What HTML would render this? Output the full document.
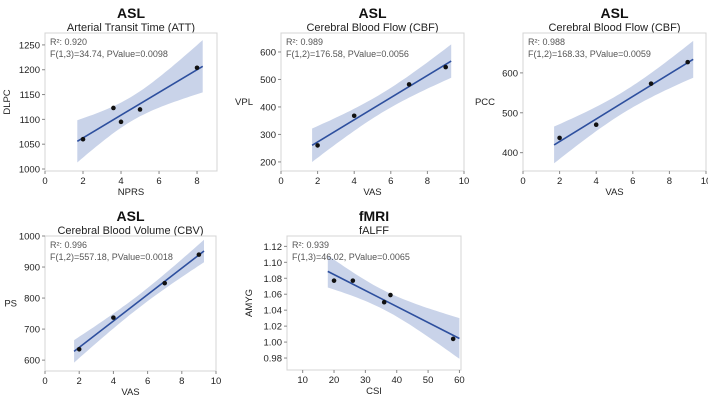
<!DOCTYPE html>
<html><head><meta charset="utf-8"><style>
body{margin:0;background:#fff;width:708px;height:406px;overflow:hidden;font-family:"Liberation Sans",sans-serif}
</style></head><body>
<svg id="fig" width="708" height="406" xmlns="http://www.w3.org/2000/svg" font-family="Liberation Sans, sans-serif"></svg>
<script>
// Panel data
const p1X=[2,3.6,4,5,8];      const p1Y=[1060,1123,1095,1120,1204];
const p2X=[2,4,7,9];          const p2Y=[260,368,482,545];
const p3X=[2,4,7,9];          const p3Y=[437,470,573,627];
const p4X=[2,4,7,9];          const p4Y=[635,737,848,940];
const p5X=[20,26,36,38,58];   const p5Y=[1.077,1.077,1.050,1.059,1.004];
const p1YTicks=[1000,1050,1100,1150,1200,1250]; const p1XTicks=[0,2,4,6,8];
const p2YTicks=[200,300,400,500,600]; const p2XTicks=[0,2,4,6,8,10];
const p3YTicks=[400,500,600]; const p3XTicks=[0,2,4,6,8,10];
const p4YTicks=[600,700,800,900,1000]; const p4XTicks=[0,2,4,6,8,10];
const p5YTicks=[0.98,1.00,1.02,1.04,1.06,1.08,1.10,1.12]; const p5XTicks=[10,20,30,40,50,60];
const titles=["ASL","ASL","ASL","ASL","fMRI"];
const subtitles=["Arterial Transit Time (ATT)","Cerebral Blood Flow (CBF)","Cerebral Blood Flow (CBF)","Cerebral Blood Volume (CBV)","fALFF"];
const statR=["R²: 0.920","R²: 0.989","R²: 0.988","R²: 0.996","R²: 0.939"];
const statF=["F(1,3)=34.74, PValue=0.0098","F(1,2)=176.58, PValue=0.0056","F(1,2)=168.33, PValue=0.0059","F(1,2)=557.18, PValue=0.0018","F(1,3)=46.02, PValue=0.0065"];
const xTitles=["NPRS","VAS","VAS","VAS","CSI"];
const yTitles=["DLPC","VPL","PCC","PS","AMYG"];

const panels=[
 {X:p1X,Y:p1Y,yt:p1YTicks,xt:p1XTicks,L:45,R:217,T:33,B:171,x0:0,x1:9.05,y0:996,y1:1274,fx:1.7,tx:8.3,rot:true,dec:0},
 {X:p2X,Y:p2Y,yt:p2YTicks,xt:p2XTicks,L:281,R:464,T:33,B:171,x0:0,x1:10,y0:167,y1:669,fx:1.7,tx:9.3,rot:false,dec:0},
 {X:p3X,Y:p3Y,yt:p3YTicks,xt:p3XTicks,L:523,R:706,T:33,B:171,x0:0,x1:10,y0:354,y1:700,fx:1.7,tx:9.3,rot:false,dec:0},
 {X:p4X,Y:p4Y,yt:p4YTicks,xt:p4XTicks,L:45,R:216,T:236,B:371,x0:0,x1:10,y0:565,y1:1000,fx:1.7,tx:9.3,rot:false,dec:0},
 {X:p5X,Y:p5Y,yt:p5YTicks,xt:p5XTicks,L:287,R:461,T:236,B:370,x0:5,x1:60.5,y0:0.965,y1:1.133,fx:18,tx:60,rot:true,dec:2}
];
const tcrit={3:3.182,2:4.303};
const svg=document.getElementById('fig');
const NS="http://www.w3.org/2000/svg";
function mk(tag,attrs,txt){const e=document.createElementNS(NS,tag);for(const k in attrs)e.setAttribute(k,attrs[k]);if(txt!==undefined)e.textContent=txt;svg.appendChild(e);return e;}

panels.forEach((p,i)=>{
  const sx=v=>p.L+(v-p.x0)/(p.x1-p.x0)*(p.R-p.L);
  const sy=v=>p.B-(v-p.y0)/(p.y1-p.y0)*(p.B-p.T);
  const cx=(p.L+p.R)/2;
  let e;
  e=mk('text',{x:cx,y:p.T-15,'text-anchor':'middle','font-size':14,'font-weight':'bold',fill:'#111'},titles[i]);
  
  
  e=mk('text',{x:cx,y:p.T-2,'text-anchor':'middle','font-size':11,fill:'#222'},subtitles[i]);
  
  
  e=mk('rect',{x:p.L,y:p.T,width:p.R-p.L,height:p.B-p.T,fill:'#fff',stroke:'#d4d4d4','stroke-width':1});
  
  
  // regression
  const n=p.X.length, mx=p.X.reduce((a,b)=>a+b)/n, my=p.Y.reduce((a,b)=>a+b)/n;
  let sxx=0,sxy=0;p.X.forEach((x,k)=>{sxx+=(x-mx)**2;sxy+=(x-mx)*(p.Y[k]-my);});
  const b=sxy/sxx,a=my-b*mx;let sse=0;p.X.forEach((x,k)=>{sse+=(p.Y[k]-a-b*x)**2;});
  const s=Math.sqrt(sse/(n-2)),t=tcrit[n-2];
  const up=[],lo=[];
  for(let k=0;k<=40;k++){const x=p.fx+(p.tx-p.fx)*k/40;const yh=a+b*x;const h=t*s*Math.sqrt(1/n+(x-mx)**2/sxx);
    up.push(sx(x).toFixed(1)+','+sy(yh+h).toFixed(1));lo.unshift(sx(x).toFixed(1)+','+sy(yh-h).toFixed(1));}
  e=mk('polygon',{points:up.concat(lo).join(' '),fill:'#c9d3e9',stroke:'none'});
  
  
  e=mk('line',{x1:sx(p.fx),y1:sy(a+b*p.fx),x2:sx(p.tx),y2:sy(a+b*p.tx),stroke:'#2d4f9e','stroke-width':1.6});
  
  
  p.X.forEach((x,k)=>{
    e=mk('circle',{cx:sx(x),cy:sy(p.Y[k]),r:2.3,fill:'#111'});
    
    
  });
  e=mk('text',{x:p.L+5,y:p.T+12,'font-size':9,fill:'#555'},statR[i]);
  
  
  e=mk('text',{x:p.L+5,y:p.T+24,'font-size':9,fill:'#555'},statF[i]);
  
  
  p.yt.forEach(v=>{
    e=mk('line',{x1:p.L-3,x2:p.L,y1:sy(v),y2:sy(v),stroke:'#888'});
    
    
    e=mk('text',{x:p.L-5,y:sy(v)+3.5,'text-anchor':'end','font-size':9.5,fill:'#222'},v.toFixed(p.dec));
    
    
  });
  p.xt.forEach(v=>{
    e=mk('line',{x1:sx(v),x2:sx(v),y1:p.B,y2:p.B+3,stroke:'#888'});
    
    
    e=mk('text',{x:sx(v),y:p.B+13,'text-anchor':'middle','font-size':9.5,fill:'#222'},v);
    
    
  });
  e=mk('text',{x:cx,y:p.B+24,'text-anchor':'middle','font-size':9.5,fill:'#222'},xTitles[i]);
  
  
  const ym=(p.T+p.B)/2, lx=p.L-(p.rot?36:26)-(p.dec?0:0);
  if(p.rot){
    e=mk('text',{x:p.L-35,y:ym,'text-anchor':'middle','font-size':9.5,fill:'#222',transform:`rotate(-90 ${p.L-35} ${ym})`},yTitles[i]);
  } else {
    e=mk('text',{x:p.L-28,y:ym+3,'text-anchor':'end','font-size':9.5,fill:'#222'},yTitles[i]);
  }
  
  
});
</script>
</body></html>
